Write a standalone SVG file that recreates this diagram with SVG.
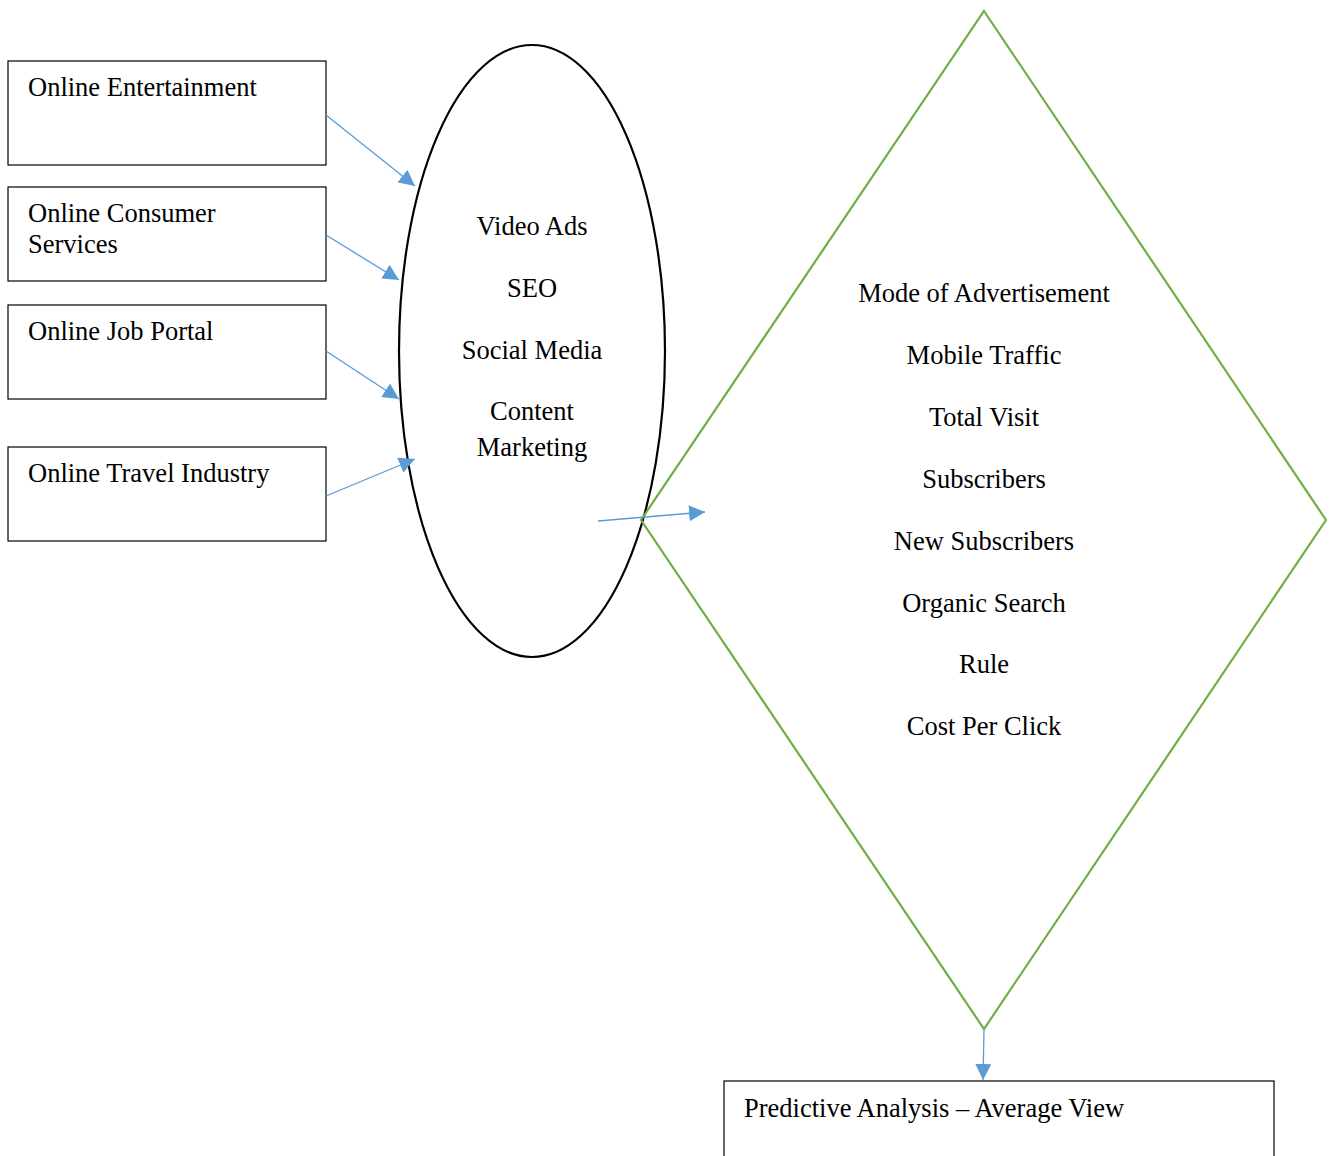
<svg xmlns="http://www.w3.org/2000/svg" width="1333" height="1156" viewBox="0 0 1333 1156">
<style>
.box{fill:#fff;stroke:#000;stroke-width:1.2}
.t{font-family:"Liberation Serif","Times New Roman",serif;font-size:26.5px;fill:#000}
.c{text-anchor:middle}
.ar{stroke:#5B9BD5;stroke-width:1.3;fill:none;marker-end:url(#ah)}
</style>
<defs>
<marker id="ah" viewBox="0 0 10 10" refX="10" refY="5" markerWidth="16" markerHeight="16" markerUnits="userSpaceOnUse" orient="auto">
<path d="M0,0 L10,5 L0,10 Z" fill="#5B9BD5"/>
</marker>
</defs>
<rect width="1333" height="1156" fill="#fff"/>
<g id="n1"><rect class="box" x="8" y="61" width="318" height="104"/><text class="t" x="28" y="96">Online Entertainment</text></g>
<g id="n2"><rect class="box" x="8" y="187" width="318" height="94"/><text class="t" x="28" y="222">Online Consumer</text><text class="t" x="28" y="253">Services</text></g>
<g id="n3"><rect class="box" x="8" y="305" width="318" height="94"/><text class="t" x="28" y="340">Online Job Portal</text></g>
<g id="n4"><rect class="box" x="8" y="447" width="318" height="94"/><text class="t" x="28" y="482">Online Travel Industry</text></g>
<g id="ellipse"><ellipse cx="532" cy="351" rx="133" ry="306" fill="none" stroke="#000" stroke-width="2.2"/>
<text class="t c" x="532" y="235">Video Ads</text>
<text class="t c" x="532" y="297">SEO</text>
<text class="t c" x="532" y="359">Social Media</text>
<text class="t c" x="532" y="420">Content</text>
<text class="t c" x="532" y="456">Marketing</text></g>
<g id="diamond"><polygon points="984,11 1326,520 984,1029 641,520" fill="none" stroke="#70AD47" stroke-width="2.2"/>
<text class="t c" x="984" y="302">Mode of Advertisement</text>
<text class="t c" x="984" y="364">Mobile Traffic</text>
<text class="t c" x="984" y="426">Total Visit</text>
<text class="t c" x="984" y="488">Subscribers</text>
<text class="t c" x="984" y="550">New Subscribers</text>
<text class="t c" x="984" y="612">Organic Search</text>
<text class="t c" x="984" y="673">Rule</text>
<text class="t c" x="984" y="735">Cost Per Click</text></g>
<g id="result"><rect class="box" x="724" y="1081" width="550" height="90"/><text class="t" x="744" y="1117">Predictive Analysis – Average View</text></g>
<g id="connectors">
<line class="ar" x1="326" y1="115" x2="415" y2="186"/>
<line class="ar" x1="326" y1="235" x2="399" y2="280"/>
<line class="ar" x1="326" y1="351" x2="399" y2="399"/>
<line class="ar" x1="326" y1="496" x2="415" y2="459"/>
<line class="ar" x1="598" y1="521" x2="705" y2="512"/>
<line class="ar" x1="984" y1="1029" x2="983" y2="1080"/>
</g>
</svg>
